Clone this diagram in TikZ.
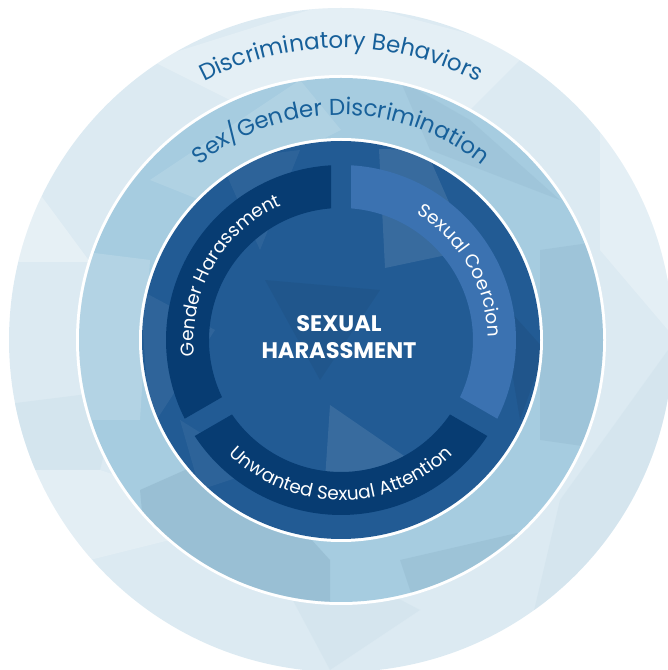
\documentclass[tikz,border=0pt]{standalone}
\usepackage{fontspec}
\setmainfont{Poppins}
\usetikzlibrary{decorations.text}
\definecolor{outerC}{HTML}{DCEAF2}
\definecolor{outerD}{HTML}{CFE2EC}
\definecolor{midC}{HTML}{A6CCE0}
\definecolor{midD}{HTML}{8EB4C9}
\definecolor{innerC}{HTML}{225B94}
\definecolor{navy}{HTML}{073C72}
\definecolor{coerC}{HTML}{3B72B1}
\definecolor{labelC}{HTML}{17609A}
\tikzset{
  ringlabel/.style={decorate, decoration={text along path, text align=center, text color=labelC,
     text={|\fontsize{23}{23}\selectfont|#1}}},
  bandlabel/.style={decorate, decoration={text along path, text align=center, text color=white,
     text={|\fontsize{18.5}{18.5}\selectfont|#1}}},
}
\begin{document}
\begin{tikzpicture}[x=1pt,y=1pt]
\useasboundingbox (0,0) rectangle (668,670);
\clip (0,0) rectangle (668,670);
\coordinate (C) at (341,330);
% outer ring
\fill[outerC] (C) circle[radius=332];
\begin{scope}
\clip (C) circle[radius=332];
\begin{scope}[y=-1pt, yshift=670pt]
\fill[white, opacity=.25] (150,60) -- (341,0) -- (530,50) -- (470,110) -- (230,100) -- cycle;
\fill[white, opacity=.3] (0,140) -- (90,262) -- (0,262) -- cycle;
\fill[outerD, opacity=.6] (0,405) -- (120,390) -- (100,470) -- (0,470) -- cycle;
\fill[white, opacity=.2] (0,470) -- (90,560) -- (250,520) -- (100,470) -- cycle;
\fill[outerD, opacity=.5] (250,520) -- (330,670) -- (420,610) -- cycle;
\fill[outerD, opacity=.5] (560,500) -- (668,350) -- (668,670) -- (520,670) -- cycle;
\fill[white, opacity=.25] (600,120) -- (668,200) -- (668,330) -- (600,250) -- cycle;
\end{scope}
\end{scope}
% middle ring
\fill[white] (C) circle[radius=265];
\fill[midC] (C) circle[radius=262];
\begin{scope}
\clip (C) circle[radius=262];
\begin{scope}[y=-1pt, yshift=670pt]
\fill[midD, opacity=.5] (140,490) -- (230,450) -- (330,560) -- (330,610) -- (150,600) -- cycle;
\fill[midD, opacity=.35] (400,560) -- (530,530) -- (600,430) -- (580,560) -- (420,620) -- cycle;
\fill[white, opacity=.15] (70,250) -- (150,260) -- (140,420) -- (70,420) -- cycle;
\fill[midD, opacity=.3] (540,250) -- (610,240) -- (610,450) -- (540,440) -- cycle;
\fill[white, opacity=.12] (150,180) -- (300,80) -- (341,130) -- (200,200) -- cycle;
\fill[midD, opacity=.25] (400,80) -- (470,120) -- (560,200) -- (430,150) -- cycle;
\end{scope}
\end{scope}
% inner circle
\fill[white] (C) circle[radius=202];
\fill[innerC] (C) circle[radius=199];
\begin{scope}
\clip (C) circle[radius=199];
\begin{scope}[y=-1pt, yshift=670pt]
\fill[white, opacity=.1] (379,149) -- (426,150) -- (470,250) -- (385,268) -- cycle;
\fill[white, opacity=.1] (330,405) -- (325,480) -- (410,460) -- cycle;
\fill[white, opacity=.06] (140,290) -- (215,330) -- (150,430) -- cycle;
\fill[black, opacity=.05] (265,280) -- (380,290) -- (320,380) -- cycle;
\fill[black, opacity=.06] (500,300) -- (545,350) -- (520,420) -- cycle;
\fill[white, opacity=.05] (220,160) -- (300,150) -- (260,250) -- cycle;
\fill[white, opacity=.05] (180,420) -- (260,470) -- (200,490) -- cycle;
\end{scope}
\end{scope}
% bands
\begin{scope}[shift={(341,330)}]
\fill[navy] (93.276:175) arc[start angle=93.276, end angle=206.724, radius=175]
  -- (205.655:132) arc[start angle=205.655, end angle=94.345, radius=132] -- cycle;
\fill[navy] (213.276:175) arc[start angle=213.276, end angle=326.724, radius=175]
  -- (325.655:132) arc[start angle=325.655, end angle=214.345, radius=132] -- cycle;
\fill[coerC] (333.276:175) arc[start angle=333.276, end angle=446.724, radius=175]
  -- (445.655:132) arc[start angle=445.655, end angle=334.345, radius=132] -- cycle;
% labels on arcs
\path[ringlabel={Discriminatory Behaviors}] (155:292) arc[start angle=155, end angle=25, radius=292];
\path[ringlabel={Sex/Gender Discrimination}] (160:225) arc[start angle=160, end angle=20, radius=225];
\path[bandlabel={Gender Harassment}] (210:147) arc[start angle=210, end angle=90, radius=147];
\path[bandlabel={Sexual Coercion}] (90:147) arc[start angle=90, end angle=-30, radius=147];
\path[bandlabel={Unwanted Sexual Attention}] (205:160) arc[start angle=205, end angle=335, radius=160];
\end{scope}
\node[font=\fontsize{22.5}{27}\selectfont\bfseries, text=white, align=center] (title) at (339,333) {SEXUAL\\HARASSMENT};
\end{tikzpicture}
\end{document}
